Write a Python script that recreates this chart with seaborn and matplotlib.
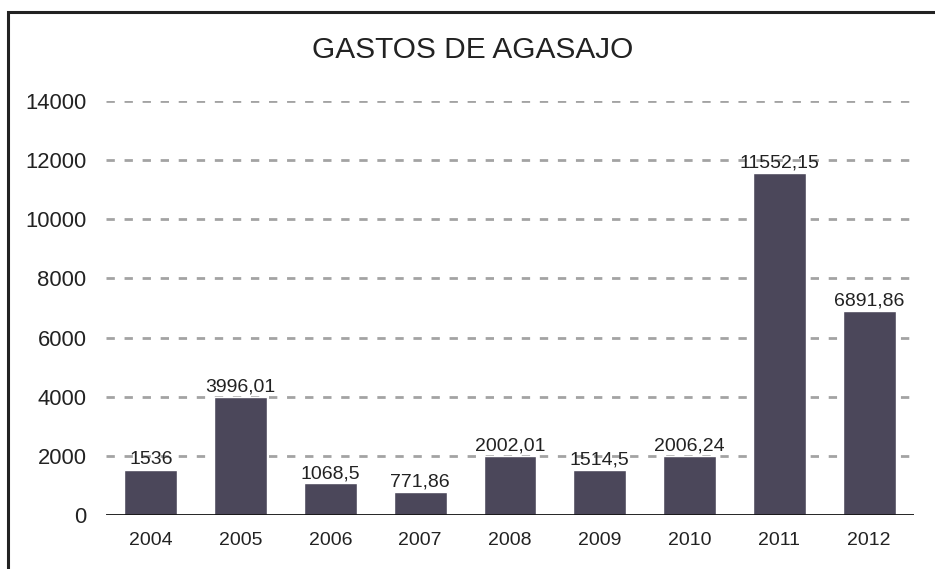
import matplotlib
matplotlib.use("Agg")
import matplotlib.pyplot as plt
import seaborn as sns
import pandas as pd
from matplotlib.patches import Rectangle

years = ["2004", "2005", "2006", "2007", "2008", "2009", "2010", "2011", "2012"]
values = [1536, 3996.01, 1068.5, 771.86, 2002.01, 1514.5, 2006.24, 11552.15, 6891.86]
labels = ["1536", "3996,01", "1068,5", "771,86", "2002,01", "1514,5", "2006,24", "11552,15", "6891,86"]
yticks = [0, 2000, 4000, 6000, 8000, 10000, 12000, 14000]

sns.set_theme(style="white")
plt.rcParams['font.family'] = ['Liberation Sans', 'DejaVu Sans']

df = pd.DataFrame({"year": years, "value": values})

fig = plt.figure(figsize=(9.35, 5.69), dpi=100)
ax = fig.add_axes([0.1134, 0.0949, 0.8641, 0.7276])

sns.barplot(data=df, x="year", y="value", color="#4b475a", saturation=1,
            width=0.59, ax=ax, zorder=3)

ax.set_ylim(0, 14000)
ax.set_xlim(-0.5, len(years) - 0.5)
ax.set_yticks(yticks)
ax.set_yticklabels([str(t) for t in yticks], fontsize=15.8, color="#222222")
ax.tick_params(axis="x", labelsize=14, colors="#222222", length=0, pad=12)
ax.tick_params(axis="y", length=0, pad=14)
ax.set_xlabel("")
ax.set_ylabel("")

for t in yticks[1:]:
    ax.axhline(t, color="#a3a3a3", lw=2, ls=(0, (3, 3.5)), zorder=1)
ax.axhline(0, color="#111111", lw=2, zorder=4)

for sp in ["top", "right", "left", "bottom"]:
    ax.spines[sp].set_visible(False)

for i, (v, lab) in enumerate(zip(values, labels)):
    ax.annotate(lab, (i, v), xytext=(0, 1), textcoords="offset points",
                ha="center", va="bottom", fontsize=14, color="#222222", zorder=5)

fig.text(0.506, 0.912, "GASTOS DE AGASAJO", ha="center", va="center",
         fontsize=21.5, color="#222222")

# outer frame (partially cropped on the right and bottom)
fig.patches.append(Rectangle((8 / 935, -0.05), 1.2, 1.05 - 12 / 569,
                             transform=fig.transFigure, fill=False,
                             edgecolor="#222222", lw=2.2))

fig.savefig("out.png", dpi=100)
